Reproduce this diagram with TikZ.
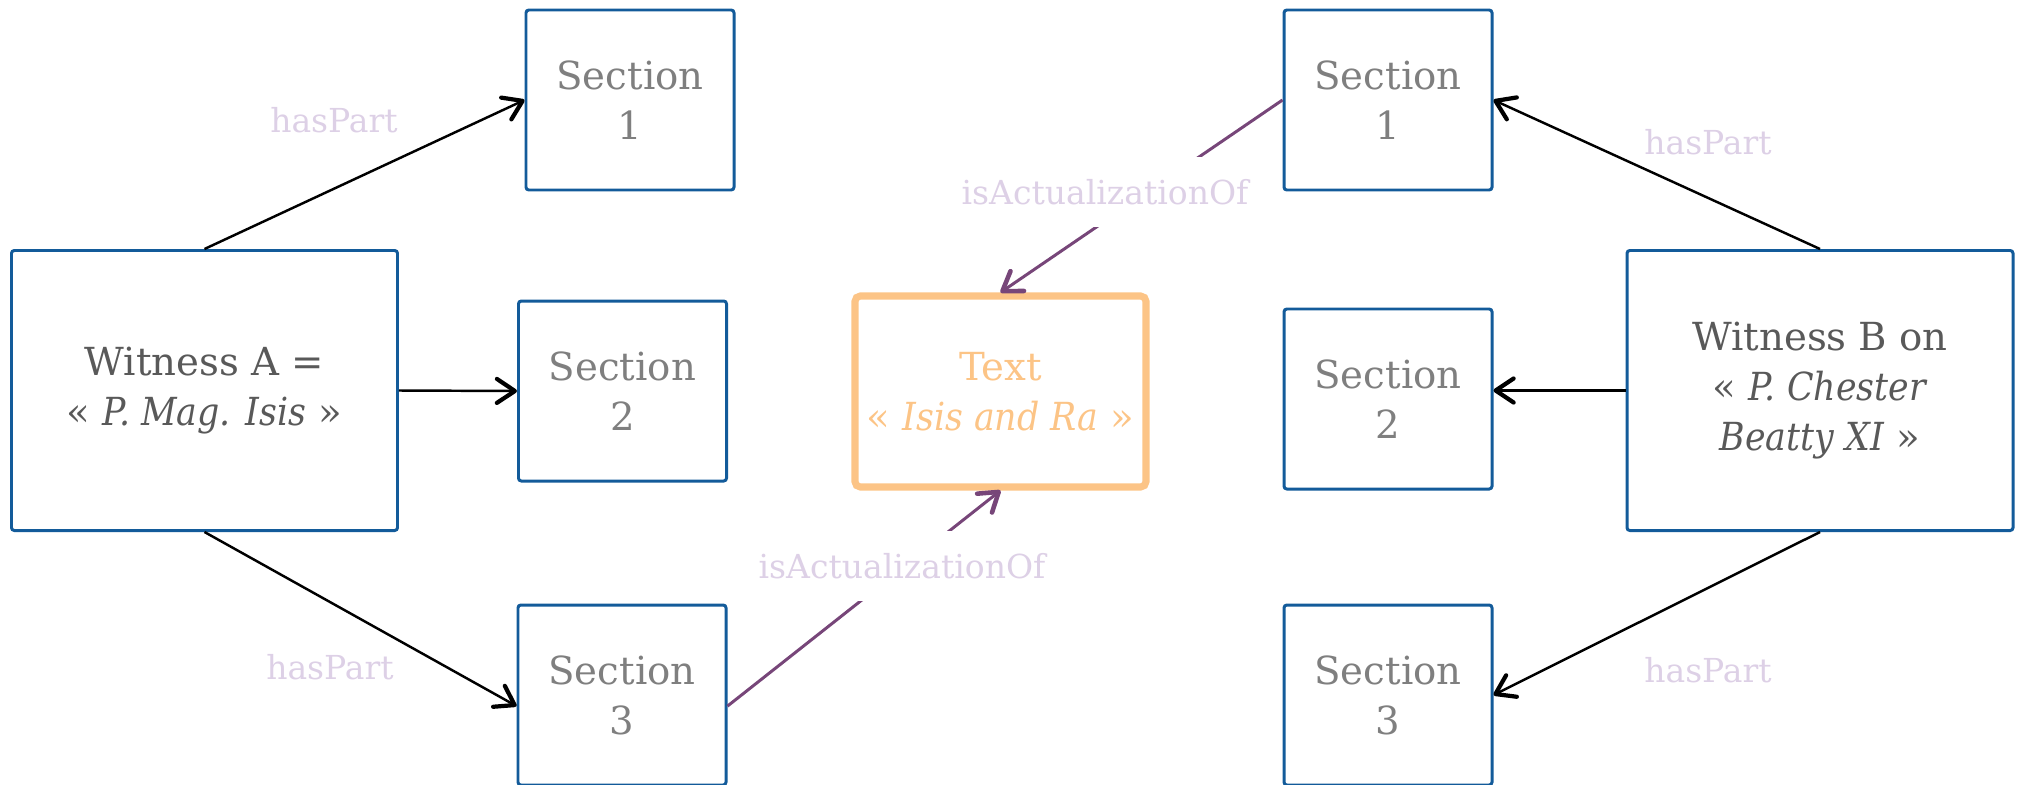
\documentclass[tikz,border=0pt]{standalone}
\usepackage{fontspec}
\setmainfont{DejaVu Serif}[ItalicFeatures={FakeStretch=0.9}]
\usetikzlibrary{arrows.meta}

\definecolor{witnessblue}{RGB}{19,91,154}
\definecolor{witnessgray}{RGB}{89,89,89}
\definecolor{sectiongray}{RGB}{127,127,127}
\definecolor{textorange}{RGB}{252,196,134}
\definecolor{relpurple}{RGB}{119,70,121}
\definecolor{labelpurple}{RGB}{221,208,230}

\begin{document}
\begin{tikzpicture}[
  witness/.style={
    draw=witnessblue,
    line width=0.85pt,
    rounded corners=0.8pt,
    minimum width=3.86cm,
    minimum height=2.8cm,
    text=witnessgray,
    align=center,
    font=\fontsize{11}{14.2}\selectfont
  },
  sectionbox/.style={
    draw=witnessblue,
    line width=0.85pt,
    rounded corners=0.8pt,
    minimum width=2.08cm,
    minimum height=1.8cm,
    text=sectiongray,
    align=center,
    font=\fontsize{11}{14.2}\selectfont
  },
  work/.style={
    draw=textorange,
    line width=2pt,
    rounded corners=1.5pt,
    minimum width=2.91cm,
    minimum height=1.91cm,
    inner xsep=1pt,
    text=textorange,
    align=center,
    font=\fontsize{11}{14.2}\selectfont
  },
  haspart/.style={
    -{Straight Barb[length=0.18cm, width=0.24cm, line width=1.2pt, round]},
    line width=0.7pt,
    draw=black
  },
  actualization/.style={
    -{Straight Barb[length=0.18cm, width=0.24cm, line width=1.3pt, round]},
    line width=0.85pt,
    draw=relpurple
  },
  relname/.style={
    text=labelpurple,
    font=\fontsize{9.4}{11}\selectfont
  },
  gap/.style={
    relname,
    fill=white,
    minimum height=0.7cm
  }
]
\useasboundingbox (0,0) rectangle (20.2,7.84);

% witness A and its sections
\node[witness] (WA) at (2.045,3.935) {Witness A =\\ « \textit{P. Mag. Isis} »};
\node[sectionbox] (A1) at (6.30,6.84) {Section\\ 1};
\node[sectionbox] (A2) at (6.225,3.93) {Section\\ 2};
\node[sectionbox] (A3) at (6.22,0.89) {Section\\ 3};

% the text
\node[work] (T) at (10.005,3.925) {Text\\ « \textit{Isis and Ra} »};

% witness B and its sections
\node[witness] (WB) at (18.20,3.935) {Witness B on\\ « \textit{P. Chester}\\ \textit{Beatty XI} »};
\node[sectionbox] (B1) at (13.88,6.84) {Section\\ 1};
\node[sectionbox] (B2) at (13.88,3.85) {Section\\ 2};
\node[sectionbox] (B3) at (13.88,0.89) {Section\\ 3};

\draw[haspart] (WA.north) -- (A1.west);
\draw[haspart] (WA.east) -- (A2.west);
\draw[haspart] (WA.south) -- (A3.186);

\draw[haspart] (WB.north) -- (B1.east);
\draw[haspart] (WB.west) -- (B2.east |- WB.west);
\draw[haspart] (WB.south) -- (B3.east);

\draw[actualization] (B1.west) -- (T.north);
\draw[actualization] (A3.-6) -- (T.south);

\node[relname] (hpA1) at (3.34,6.64) {hasPart};
\node[relname] (hpA3) at (3.30,1.17) {hasPart};
\node[relname] (hpB1) at (17.08,6.42) {hasPart};
\node[relname] (hpB3) at (17.08,1.14) {hasPart};

\node[gap] (actB1) at (11.05,5.92) {isActualizationOf};
\node[gap] (actA3) at (9.02,2.18) {isActualizationOf};
\end{tikzpicture}
\end{document}
